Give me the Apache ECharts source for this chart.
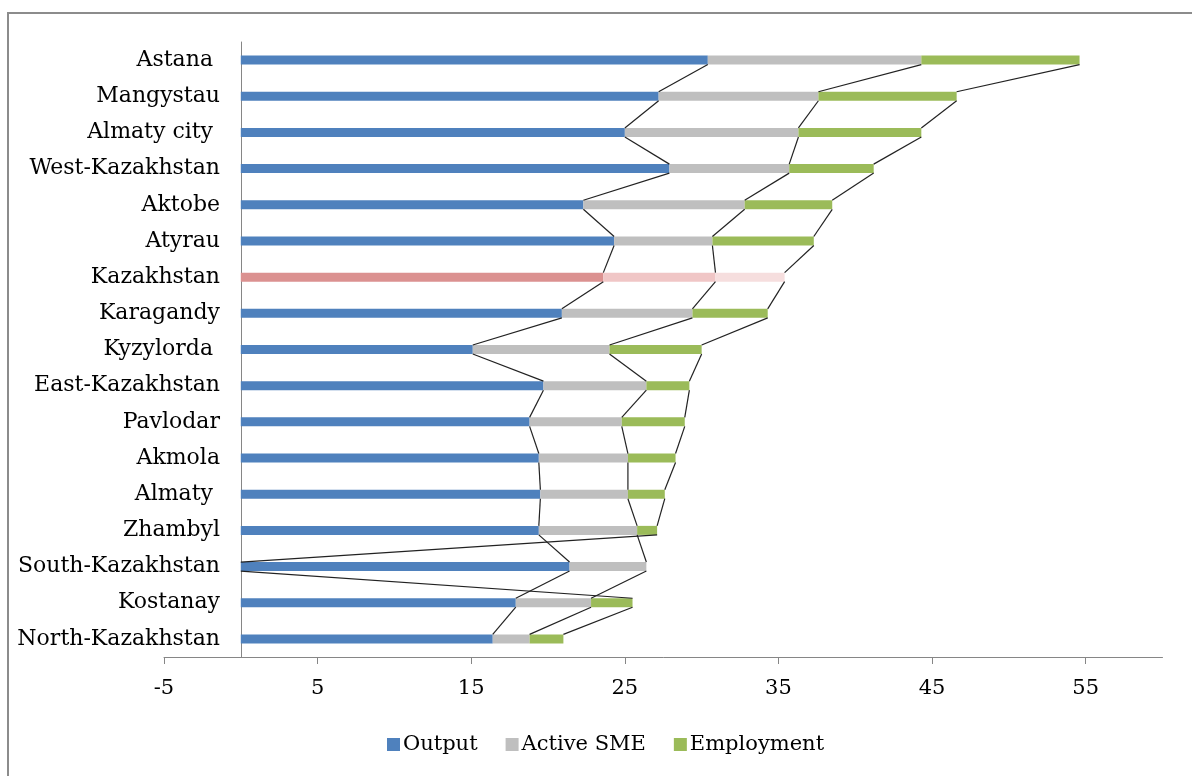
<!DOCTYPE html>
<html>
<head>
<meta charset="utf-8">
<script src="https://cdn.jsdelivr.net/npm/echarts@6/dist/echarts.min.js"></script>
<style>
html,body{margin:0;padding:0;background:#fff;}
#chart{width:1192px;height:776px;}
</style>
</head>
<body>
<div id="chart"></div>
<script>
// Categories, top to bottom
const regions = ["Astana ", "Mangystau", "Almaty city ", "West-Kazakhstan", "Aktobe", "Atyrau", "Kazakhstan", "Karagandy", "Kyzylorda ", "East-Kazakhstan", "Pavlodar", "Akmola", "Almaty ", "Zhambyl", "South-Kazakhstan", "Kostanay", "North-Kazakhstan"];
// Stacked segment values
const output = [30.4, 27.2, 25.0, 27.9, 22.3, 24.3, 23.6, 20.9, 15.1, 19.7, 18.8, 19.4, 19.5, 19.4, 21.4, 17.9, 16.4];
const activeSME = [13.9, 10.4, 11.3, 7.8, 10.5, 6.4, 7.3, 8.5, 8.9, 6.7, 6.0, 5.8, 5.7, 6.4, 5.0, 4.9, 2.4];
const employment = [10.3, 9.0, 8.0, 5.5, 5.7, 6.6, 4.5, 4.9, 6.0, 2.8, 4.1, 3.1, 2.4, 1.3, null, 2.7, 2.2];
// Axis ticks
const xTicks = [-5, 5, 15, 25, 35, 45, 55];

const seriesNames = ["Output", "Active SME", "Employment"];
const seriesColors = ["#4F81BD", "#BFBFBF", "#9BBB59"];
const highlightName = "Kazakhstan";
const highlightColors = ["#DB9190", "#F0C6C6", "#F6DEDE"];
const BAR_W = 9;

const seriesData = [output, activeSME, employment];

function barData(values, si) {
  return values.map((v, i) => {
    if (regions[i].trim() === highlightName) {
      return { value: v, itemStyle: { color: highlightColors[si] } };
    }
    return v;
  });
}

// cumulative ends for series lines (missing -> 0, as in the original)
const cumEnds = seriesData.map((_, si) => regions.map((_, i) => {
  const v = seriesData[si][i];
  if (v === null || v === undefined) return 0;
  let s = 0;
  for (let k = 0; k <= si; k++) s += seriesData[k][i] || 0;
  return s;
}));

const lineItems = [];
cumEnds.forEach(arr => {
  for (let i = 0; i < arr.length - 1; i++) lineItems.push([arr[i], arr[i + 1], i]);
});

const serif = "DejaVu Serif";
const chart = echarts.init(document.getElementById('chart'));
const option = {
  animation: false,
  backgroundColor: '#fff',
  graphic: [{
    type: 'rect', silent: true, z: -10,
    shape: { x: 8, y: 13, width: 1220, height: 820 },
    style: { fill: 'none', stroke: '#8c8c8c', lineWidth: 2 }
  }],
  grid: { left: 164, right: 29.5, top: 42, bottom: 119, containLabel: false, outerBoundsMode: 'none' },
  legend: {
    data: seriesNames,
    left: 382, top: 729,
    itemWidth: 13, itemHeight: 13, itemGap: 28,
    icon: 'rect',
    textStyle: { fontFamily: serif, fontSize: 21, color: '#000', padding: [0, 0, 0, -2] }
  },
  xAxis: {
    type: 'value', min: -5, max: 60, interval: 5,
    axisLine: { show: true, lineStyle: { color: '#868686', width: 1 } },
    axisTick: { show: true, length: 7, lineStyle: { color: '#868686' }, customValues: xTicks },
    axisLabel: { fontFamily: serif, fontSize: 21, color: '#000', margin: 21, customValues: xTicks },
    splitLine: { show: false }
  },
  yAxis: {
    type: 'category', data: regions, inverse: true,
    axisLine: { show: true, onZero: true, lineStyle: { color: '#868686', width: 1 } },
    axisTick: { show: false },
    axisLabel: { fontFamily: serif, fontSize: 22, color: '#000', margin: -56 },
    splitLine: { show: false }
  },
  series: seriesNames.map((name, si) => ({
    name: name, type: 'bar', stack: 'total', barWidth: BAR_W,
    itemStyle: { color: seriesColors[si] },
    data: barData(seriesData[si], si)
  })).concat([{
    name: 'Series lines', type: 'custom', silent: true, z: 3,
    encode: { x: [0, 1], y: 2 },
    data: lineItems,
    renderItem: function (params, api) {
      const i = api.value(2);
      const p0 = api.coord([api.value(0), i]);
      const p1 = api.coord([api.value(1), i + 1]);
      return {
        type: 'line',
        shape: { x1: p0[0], y1: p0[1] + BAR_W / 2, x2: p1[0], y2: p1[1] - BAR_W / 2 },
        style: { stroke: '#222', lineWidth: 1.2 }
      };
    }
  }])
};
chart.setOption(option);
</script>
</body>
</html>
